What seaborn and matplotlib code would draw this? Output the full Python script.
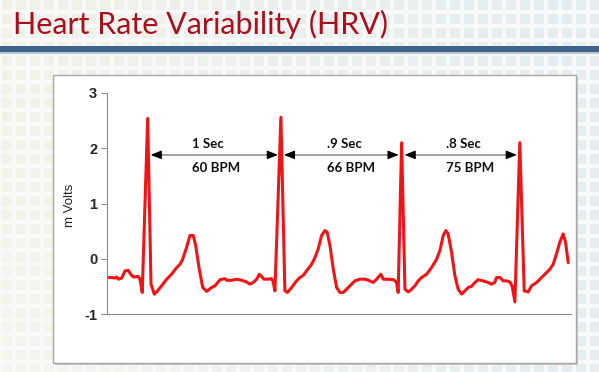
#!/usr/bin/env python3
"""
Heart Rate Variability slide - ECG trace with R-R intervals
"""

import matplotlib
matplotlib.use('Agg')
import matplotlib.pyplot as plt
from matplotlib.patches import Rectangle
import numpy as np
import seaborn as sns

W, H = 599, 372

# ECG trace (time in s, amplitude in mV)
time_s = [0.000, 0.035, 0.060, 0.073, 0.085, 0.111, 0.135, 0.160, 0.178, 0.198,
          0.235, 0.248, 0.265, 0.306, 0.331, 0.356, 0.374, 0.411, 0.449, 0.486,
          0.524, 0.549, 0.569, 0.599, 0.624, 0.649, 0.667, 0.694, 0.720, 0.750,
          0.787, 0.812, 0.850, 0.887, 0.900, 0.938, 0.975, 1.013, 1.050, 1.075,
          1.100, 1.126, 1.145, 1.163, 1.180, 1.213, 1.238, 1.250, 1.263, 1.308,
          1.338, 1.356, 1.389, 1.426, 1.451, 1.476, 1.514, 1.539, 1.564, 1.589,
          1.614, 1.639, 1.656, 1.677, 1.702, 1.727, 1.752, 1.777, 1.802, 1.827,
          1.865, 1.902, 1.940, 1.977, 2.002, 2.028, 2.060, 2.077, 2.115, 2.158,
          2.178, 2.190, 2.216, 2.241, 2.265, 2.283, 2.316, 2.341, 2.366, 2.404,
          2.441, 2.479, 2.504, 2.529, 2.549, 2.566, 2.592, 2.617, 2.641, 2.667,
          2.692, 2.717, 2.742, 2.767, 2.792, 2.829, 2.867, 2.892, 2.917, 2.930,
          2.955, 2.980, 3.005, 3.030, 3.047, 3.068, 3.105, 3.138, 3.168, 3.193,
          3.231, 3.268, 3.306, 3.331, 3.356, 3.381, 3.406, 3.431, 3.449, 3.469]
mvolts = [-0.34, -0.34, -0.35, -0.33, -0.37, -0.35, -0.22, -0.21, -0.28, -0.33,
          -0.32, -0.37, -0.61, 2.54, -0.46, -0.64, -0.60, -0.49, -0.37, -0.28,
          -0.16, -0.10, -0.01, 0.21, 0.42, 0.42, 0.24, -0.19, -0.52, -0.59,
          -0.52, -0.49, -0.38, -0.36, -0.39, -0.39, -0.37, -0.39, -0.42, -0.46,
          -0.43, -0.37, -0.28, -0.32, -0.37, -0.37, -0.36, -0.42, -0.58, 2.56,
          -0.58, -0.61, -0.52, -0.40, -0.34, -0.30, -0.18, -0.10, 0.02, 0.18,
          0.42, 0.51, 0.48, 0.24, -0.19, -0.52, -0.61, -0.61, -0.55, -0.49,
          -0.40, -0.37, -0.37, -0.40, -0.43, -0.37, -0.28, -0.37, -0.37, -0.38,
          -0.43, -0.61, 2.10, -0.55, -0.60, -0.57, -0.49, -0.40, -0.34, -0.28,
          -0.16, -0.01, 0.15, 0.42, 0.51, 0.45, 0.11, -0.31, -0.55, -0.64,
          -0.58, -0.52, -0.50, -0.43, -0.38, -0.40, -0.43, -0.46, -0.43, -0.34,
          -0.34, -0.40, -0.40, -0.42, -0.49, -0.78, 2.10, -0.58, -0.60, -0.49,
          -0.43, -0.34, -0.25, -0.19, -0.10, 0.09, 0.30, 0.45, 0.30, -0.07]

# R peaks and the interval annotations between them
r_peaks = [0.306, 1.308, 2.216, 3.105]
interval_labels = ['1 Sec', '.9 Sec', '.8 Sec']
bpm_labels = ['60 BPM', '66 BPM', '75 BPM']
label_x = [0.639, 1.654, 2.549]
arrow_y = 1.88
y_ticks = [-1, 0, 1, 2, 3]

TITLE_RED = '#a8101e'
BAR_BLUE = '#3f6288'
TRACE_RED = '#f01414'


def fx(px):
    return px / W


def fy(py):
    return 1 - py / H


def draw_background(fig):
    """Slide backdrop: pale tiles, title bar, white chart panel"""
    pitch, size = 14, 10
    beige = np.array([0.93, 0.93, 0.87])
    blue = np.array([0.85, 0.90, 0.93])
    for cx in range(2, W, pitch):
        for cy in range(0, H, pitch):
            f = cx / W
            col = beige * (1 - f) + blue * f
            alpha = 0.6 - 0.3 * (cy / H) * (1 - f)
            fig.patches.append(Rectangle((fx(cx), fy(cy + size)), size / W, size / H,
                                         transform=fig.transFigure, facecolor=col,
                                         alpha=alpha, edgecolor='none', zorder=-5))
    # blue rule under the title
    fig.patches.append(Rectangle((0, fy(52)), 1, 6 / H, transform=fig.transFigure,
                                 facecolor=BAR_BLUE, edgecolor='none', zorder=-4))
    fig.patches.append(Rectangle((0, fy(54)), 1, 2 / H, transform=fig.transFigure,
                                 facecolor='#b8c4cf', edgecolor='none', zorder=-4))
    # white panel holding the chart
    fig.patches.append(Rectangle((fx(55), fy(365)), 523 / W, 288 / H,
                                 transform=fig.transFigure, facecolor='#c8c8c8',
                                 edgecolor='none', zorder=-3))
    fig.patches.append(Rectangle((fx(53), fy(363)), 523 / W, 288 / H,
                                 transform=fig.transFigure, facecolor='white',
                                 edgecolor='#a8a8a8', linewidth=1.0, zorder=-2))


if __name__ == "__main__":
    sns.set_theme(style='white')
    plt.rcParams['axes.unicode_minus'] = False

    fig = plt.figure(figsize=(W / 100, H / 100), dpi=100)
    fig.patch.set_facecolor('#f8f9f8')
    draw_background(fig)

    fig.text(fx(13), fy(34), 'Heart Rate Variability (HRV)', color=TITLE_RED,
             fontsize=22, family='Lato', va='baseline', ha='left')

    ax = fig.add_axes([fx(107), fy(314), (571 - 107) / W, (314 - 93) / H])
    ax.set_facecolor('none')

    sns.lineplot(x=time_s, y=mvolts, ax=ax, color=TRACE_RED, linewidth=2.2,
                 sort=False, estimator=None)

    # R-R interval arrows: grey shaft, black heads
    for i in range(3):
        x0 = r_peaks[i] + 0.022
        x1 = r_peaks[i + 1] - 0.022
        ax.plot([x0 + 0.03, x1 - 0.03], [arrow_y, arrow_y], color='#9a9a9a', lw=1.3)
        for tip, tail in [(x0, x0 + 0.07), (x1, x1 - 0.07)]:
            ax.annotate('', xy=(tip, arrow_y), xytext=(tail, arrow_y),
                        arrowprops=dict(arrowstyle='-|>,head_length=0.55,head_width=0.22',
                                        color='black', lw=0.8, shrinkA=0, shrinkB=0))
        ax.text(label_x[i], 2.08, interval_labels[i], ha='left', va='center',
                fontsize=9.5, fontweight='bold', family='Lato', color='#111111')
        ax.text(label_x[i], 1.65, bpm_labels[i], ha='left', va='center',
                fontsize=9.5, fontweight='bold', family='Lato', color='#111111')

    ax.set_xlim(0, 3.49)
    ax.set_ylim(-1, 3)
    ax.set_xticks([])
    ax.set_yticks(y_ticks)
    ax.set_yticklabels([str(v) for v in y_ticks], fontweight='bold', fontsize=10.5,
                       family='Liberation Sans')
    ax.tick_params(axis='y', direction='out', length=4, width=0.8, color='#8a8a8a',
                   pad=3, left=True)
    ax.set_xlabel('')
    ax.set_ylabel('')
    for side in ['top', 'right']:
        ax.spines[side].set_visible(False)
    for side in ['left', 'bottom']:
        ax.spines[side].set_color('#8a8a8a')
        ax.spines[side].set_linewidth(0.8)

    fig.text(fx(70), fy(205), 'm Volts', rotation=90, ha='center', va='center',
             fontsize=9.5, family='Liberation Sans', color='#222222')

    fig.savefig('out.png', dpi=100, facecolor=fig.get_facecolor())
    print('Saved: out.png')
